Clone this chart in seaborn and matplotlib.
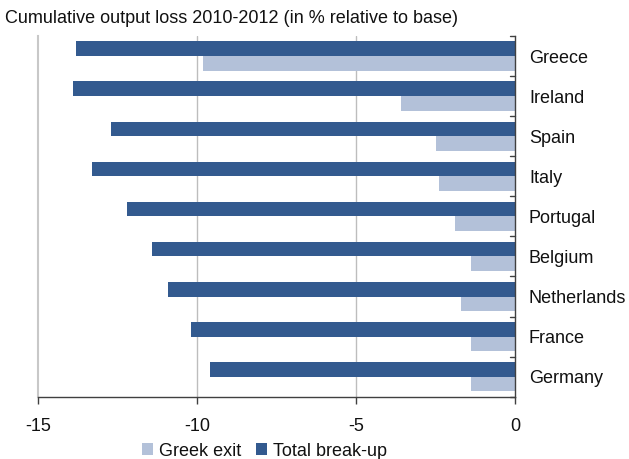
import matplotlib
matplotlib.use("Agg")
import matplotlib.pyplot as plt
from matplotlib.patches import Patch
import seaborn as sns
import pandas as pd

countries = ["Greece", "Ireland", "Spain", "Italy", "Portugal",
             "Belgium", "Netherlands", "France", "Germany"]
total_breakup = [-13.8, -13.9, -12.7, -13.3, -12.2, -11.4, -10.9, -10.2, -9.6]
greek_exit = [-9.8, -3.6, -2.5, -2.4, -1.9, -1.4, -1.7, -1.4, -1.4]
x_ticks = [-15, -10, -5, 0]

DARK = "#335a8f"
LIGHT = "#b3c1d9"

df = pd.DataFrame({
    "country": countries * 2,
    "value": total_breakup + greek_exit,
    "scenario": ["Total break-up"] * len(countries) + ["Greek exit"] * len(countries),
})

sns.set_theme(style="white")
plt.rcParams["font.family"] = ["Liberation Sans", "DejaVu Sans"]

fig = plt.figure(figsize=(6.29, 4.59), dpi=100)
ax = fig.add_axes([0.0604, 0.1357, 0.7584, 0.7859])

sns.barplot(data=df, y="country", x="value", hue="scenario",
            hue_order=["Total break-up", "Greek exit"],
            palette=[DARK, LIGHT], order=countries,
            orient="h", width=0.73, gap=0, dodge=True,
            saturation=1, legend=False, linewidth=0, ax=ax)

ax.set_xlim(-15, 0)
ax.set_ylim(len(countries) - 0.5, -0.5)
ax.set_xticks(x_ticks)
ax.set_xticklabels([str(t) for t in x_ticks], fontsize=13, color="#111111")
ax.set_xlabel("")
ax.set_ylabel("")

# category labels on the right-hand side
ax.yaxis.tick_right()
ax.set_yticks([i for i in range(len(countries))])
ax.set_yticklabels(countries, fontsize=13, color="#111111")
ax.tick_params(axis="y", which="major", length=0, pad=10)
for b in [i - 0.5 for i in range(len(countries) + 1)]:
    ax.plot([-0.17, 0], [b, b], color="#404040", lw=1, clip_on=False, zorder=5)

ax.tick_params(axis="x", direction="out", length=5, width=1, color="#404040",
               pad=10, bottom=True)

# vertical gridlines
for v in [-10, -5]:
    ax.axvline(v, color="#bdbdbd", lw=1, zorder=0)

ax.spines["top"].set_visible(False)
ax.spines["left"].set_color("#c8c8c8")
ax.spines["left"].set_linewidth(1.5)
ax.spines["right"].set_color("#404040")
ax.spines["right"].set_linewidth(1)
ax.spines["bottom"].set_color("#404040")
ax.spines["bottom"].set_linewidth(1)

fig.text(0.008, 0.96, "Cumulative output loss 2010-2012 (in % relative to base)",
         fontsize=13, ha="left", va="center", color="#111111")

handles = [Patch(facecolor=LIGHT, edgecolor="none", label="Greek exit"),
           Patch(facecolor=DARK, edgecolor="none", label="Total break-up")]
fig.legend(handles=handles, loc="center", bbox_to_anchor=(0.42, 0.017),
           ncol=2, frameon=False, fontsize=13, handlelength=0.65,
           handleheight=0.65, handletextpad=0.3, columnspacing=0.8,
           labelcolor="#111111")

fig.savefig("out.png", dpi=100)
